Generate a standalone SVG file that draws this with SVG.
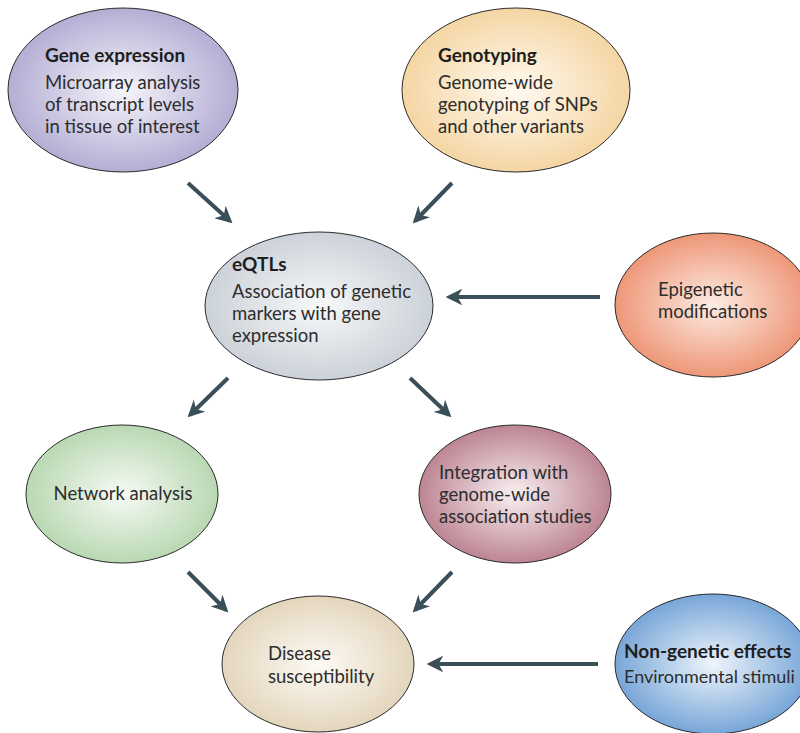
<svg xmlns="http://www.w3.org/2000/svg" width="800" height="733" viewBox="0 0 800 733">
<style>
.node ellipse{stroke:#2a2a2a;stroke-width:1}
text{font-family:Lato,"Open Sans","Liberation Sans",sans-serif;font-size:18.5px;fill:#2d2d2d}
.b{font-weight:bold;fill:#1e1e1e;font-size:19px}
.sm{font-size:18px}
.conn line{stroke:#3b4f5a;stroke-width:4;marker-end:url(#ah)}
</style>
<defs>
<marker id="ah" viewBox="0 0 10 10" refX="8" refY="5" markerWidth="4.2" markerHeight="4.2" orient="auto" markerUnits="strokeWidth">
<path d="M0,0 L10,5 L0,10 L3,5 z" fill="#3b4f5a"/>
</marker>
<radialGradient id="gPurple" cx="0.5" cy="0.5" r="0.5"><stop offset="0" stop-color="#f6f5fb"/><stop offset="1" stop-color="#b4aed4"/></radialGradient>
<radialGradient id="gOrange" cx="0.5" cy="0.5" r="0.5"><stop offset="0" stop-color="#fffaf1"/><stop offset="1" stop-color="#f5d6a4"/></radialGradient>
<radialGradient id="gGrey" cx="0.5" cy="0.5" r="0.5"><stop offset="0" stop-color="#f7f8f9"/><stop offset="1" stop-color="#ccd2d9"/></radialGradient>
<radialGradient id="gSalmon" cx="0.5" cy="0.5" r="0.5"><stop offset="0" stop-color="#fdece4"/><stop offset="1" stop-color="#ee9778"/></radialGradient>
<radialGradient id="gGreen" cx="0.5" cy="0.5" r="0.5"><stop offset="0" stop-color="#f6fbf4"/><stop offset="1" stop-color="#b9d8b3"/></radialGradient>
<radialGradient id="gMauve" cx="0.5" cy="0.5" r="0.5"><stop offset="0" stop-color="#f9f0f2"/><stop offset="1" stop-color="#bd8593"/></radialGradient>
<radialGradient id="gBeige" cx="0.5" cy="0.5" r="0.5"><stop offset="0" stop-color="#fcfaf5"/><stop offset="1" stop-color="#e4d6bd"/></radialGradient>
<radialGradient id="gBlue" cx="0.5" cy="0.5" r="0.5"><stop offset="0" stop-color="#eef4fb"/><stop offset="1" stop-color="#78a6d8"/></radialGradient>
</defs>
<rect width="800" height="733" fill="#ffffff"/>
<g id="gene-expression" class="node">
<ellipse cx="123" cy="90" rx="115" ry="82" fill="url(#gPurple)"/>
<text x="45" y="62" class="b">Gene expression</text>
<text x="45" y="89">Microarray analysis</text>
<text x="45" y="111">of transcript levels</text>
<text x="45" y="133">in tissue of interest</text>
</g>
<g id="genotyping" class="node">
<ellipse cx="516" cy="90" rx="114" ry="82" fill="url(#gOrange)"/>
<text x="438" y="62" class="b">Genotyping</text>
<text x="438" y="89">Genome-wide</text>
<text x="438" y="111">genotyping of SNPs</text>
<text x="438" y="133">and other variants</text>
</g>
<g id="eqtls" class="node">
<ellipse cx="319" cy="306" rx="114" ry="74" fill="url(#gGrey)"/>
<text x="232" y="271" class="b">eQTLs</text>
<text x="232" y="298">Association of genetic</text>
<text x="232" y="320">markers with gene</text>
<text x="232" y="342">expression</text>
</g>
<g id="epigenetic" class="node">
<ellipse cx="713" cy="305" rx="98" ry="72" fill="url(#gSalmon)"/>
<text x="658" y="296">Epigenetic</text>
<text x="658" y="318">modifications</text>
</g>
<g id="network" class="node">
<ellipse cx="122" cy="494" rx="96" ry="69" fill="url(#gGreen)"/>
<text x="123" y="500" text-anchor="middle">Network analysis</text>
</g>
<g id="integration" class="node">
<ellipse cx="515" cy="494" rx="96" ry="69" fill="url(#gMauve)"/>
<text x="439" y="479">Integration with</text>
<text x="439" y="501">genome-wide</text>
<text x="439" y="523">association studies</text>
</g>
<g id="disease" class="node">
<ellipse cx="318" cy="664" rx="96" ry="68" fill="url(#gBeige)"/>
<text x="268" y="660">Disease</text>
<text x="268" y="683">susceptibility</text>
</g>
<g id="non-genetic" class="node">
<ellipse cx="713" cy="664" rx="98" ry="70" fill="url(#gBlue)"/>
<text x="624" y="658" class="b">Non-genetic effects</text>
<text x="624" y="683" class="sm">Environmental stimuli</text>
</g>
<g id="connectors" class="conn">
<line x1="188" y1="183" x2="230" y2="221"/>
<line x1="452" y1="183" x2="415" y2="221"/>
<line x1="600" y1="297" x2="449" y2="297"/>
<line x1="228" y1="378" x2="190" y2="415"/>
<line x1="410" y1="378" x2="449" y2="415"/>
<line x1="188" y1="572" x2="226" y2="610"/>
<line x1="452" y1="572" x2="415" y2="610"/>
<line x1="598" y1="664" x2="430" y2="664"/>
</g>
</svg>
